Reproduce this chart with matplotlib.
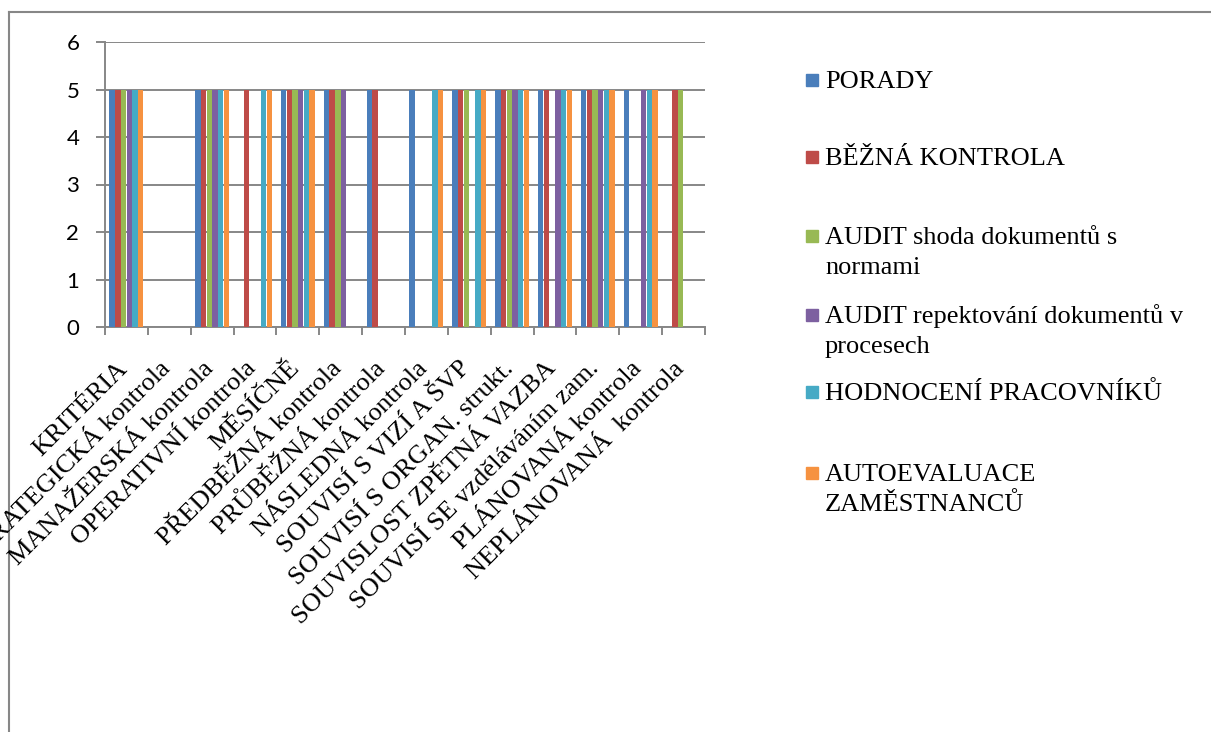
import numpy as np
import matplotlib.pyplot as plt
from matplotlib.lines import Line2D
from matplotlib.patches import Rectangle
from matplotlib.transforms import ScaledTranslation

categories = [
    "KRITÉRIA", "STRATEGICKÁ kontrola", "MANAŽERSKÁ kontrola",
    "OPERATIVNÍ kontrola", "MĚSÍČNĚ", "PŘEDBĚŽNÁ kontrola",
    "PRŮBĚŽNÁ kontrola", "NÁSLEDNÁ kontrola", "SOUVISÍ S VIZÍ A ŠVP",
    "SOUVISÍ S ORGAN. strukt.", "SOUVISLOST ZPĚTNÁ VAZBA",
    "SOUVISÍ SE vzděláváním zam.", "PLÁNOVANÁ kontrola",
    "NEPLÁNOVANÁ  kontrola",
]

series_names = [
    "PORADY",
    "BĚŽNÁ KONTROLA",
    "AUDIT shoda dokumentů s\nnormami",
    "AUDIT repektování dokumentů v\nprocesech",
    "HODNOCENÍ PRACOVNÍKŮ",
    "AUTOEVALUACE\nZAMĚSTNANCŮ",
]

porady = [5, 0, 5, 0, 5, 5, 5, 5, 5, 5, 5, 5, 5, 0]
bezna_kontrola = [5, 0, 5, 5, 5, 5, 5, 0, 5, 5, 5, 5, 0, 5]
audit_shoda = [5, 0, 5, 0, 5, 5, 0, 0, 5, 5, 0, 5, 0, 5]
audit_procesy = [5, 0, 5, 0, 5, 5, 0, 0, 0, 5, 5, 5, 5, 0]
hodnoceni = [5, 0, 5, 5, 5, 0, 0, 5, 5, 5, 5, 5, 5, 0]
autoevaluace = [5, 0, 5, 5, 5, 0, 0, 5, 5, 5, 5, 5, 5, 0]

series = [porady, bezna_kontrola, audit_shoda, audit_procesy,
          hodnoceni, autoevaluace]
colors = ["#4A7EBB", "#BE4B48", "#98B954", "#7D60A0", "#46AAC5", "#F69240"]

grey = "#878787"
serif = "Liberation Serif"
W, H = 1211, 732

fig = plt.figure(figsize=(W / 100, H / 100), dpi=100)
ax = fig.add_axes([105 / W, 1 - 327 / H, 600 / W, 285 / H])

# chart area frame (only left and top edges fall inside the image)
fig.add_artist(Line2D([9 / W, 9 / W], [0, 1 - 12 / H],
                      transform=fig.transFigure, color=grey, lw=1.5,
                      zorder=0))
fig.add_artist(Line2D([9 / W, 1], [1 - 12 / H, 1 - 12 / H],
                      transform=fig.transFigure, color=grey, lw=1.5,
                      zorder=0))

x = np.arange(len(categories))
n = len(series)
group = 0.8
w = group / n
for i, (vals, c) in enumerate(zip(series, colors)):
    ax.bar(x - group / 2 + w * (i + 0.5), vals, width=w * 0.97,
           color=c, zorder=3)

ax.set_xlim(-0.5, len(categories) - 0.5)
ax.set_ylim(0, 6)
ax.set_yticks(range(7))
ax.grid(axis="y", color=grey, lw=1.4, zorder=0)

for s in ["top", "right"]:
    ax.spines[s].set_visible(False)
for s in ["left", "bottom"]:
    ax.spines[s].set_color(grey)
    ax.spines[s].set_linewidth(1.4)

ax.tick_params(axis="y", length=6.5, width=1.4, color=grey, pad=12,
               labelsize=16)
for lab in ax.get_yticklabels():
    lab.set_fontfamily("Lato")

# category boundaries carry the tick marks, labels sit at the centres
ax.set_xticks(x)
ax.set_xticks(np.arange(len(categories) + 1) - 0.5, minor=True)
ax.tick_params(axis="x", which="major", length=0, pad=14)
ax.tick_params(axis="x", which="minor", length=6, width=1.4, color=grey)
ax.set_xticklabels(categories, rotation=45, ha="right",
                   rotation_mode="anchor", fontsize=19,
                   fontfamily=serif)
shift = ScaledTranslation(-0.10, -0.11, fig.dpi_scale_trans)
for lab in ax.get_xticklabels():
    lab.set_transform(lab.get_transform() + shift)

# legend on the right, one text per line
legend_y = [80, 157, 236, 315, 392, 473]
line_gap = 30
for name, c, yc in zip(series_names, colors, legend_y):
    fig.add_artist(Rectangle((806 / W, 1 - (yc + 6) / H),
                             12 / W, 12 / H,
                             transform=fig.transFigure, color=c))
    for k, line in enumerate(name.split("\n")):
        fig.text(825 / W, 1 - (yc + 8 + k * line_gap) / H, line,
                 fontsize=19, fontfamily=serif, va="baseline", ha="left")

fig.savefig("out.png", dpi=100)
